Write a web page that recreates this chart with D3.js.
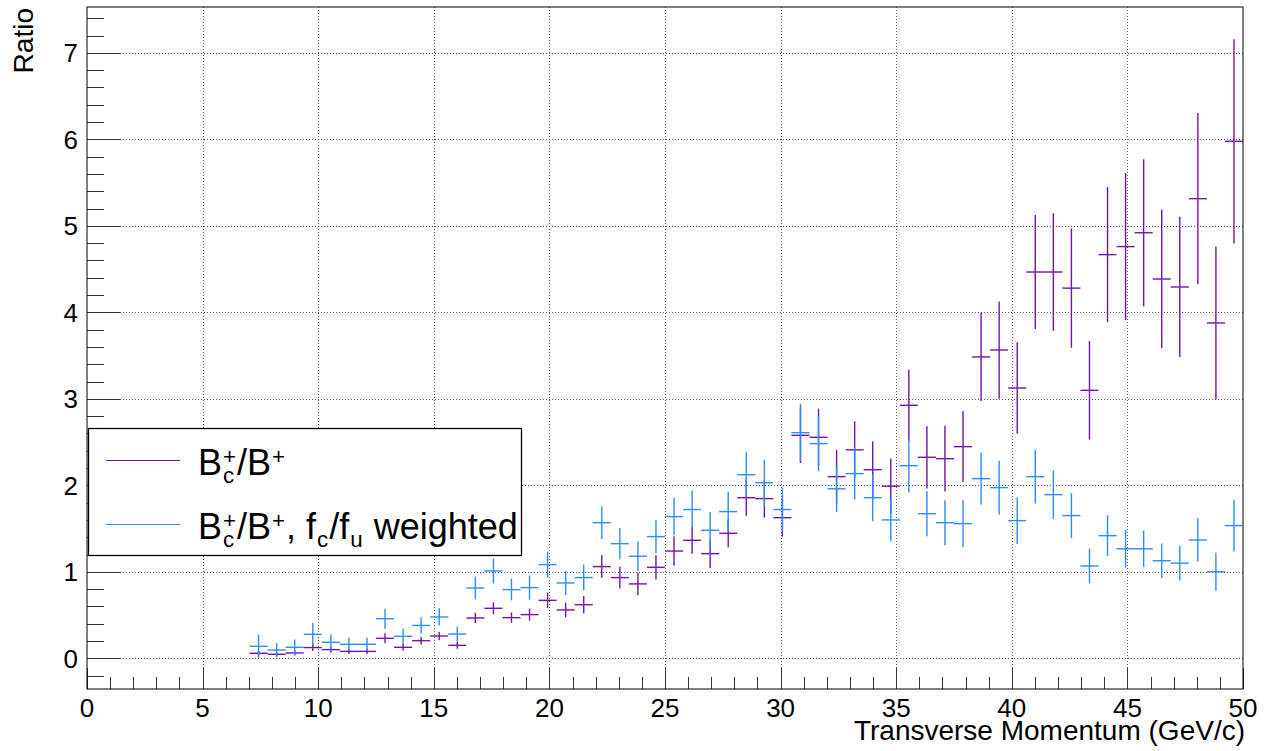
<!DOCTYPE html>
<html>
<head>
<meta charset="utf-8">
<title>Bc+/B+ ratio vs pT</title>
<script src="https://d3js.org/d3.v7.min.js"></script>
<style>
  body { margin: 0; background: #fff; }
  text { font-family: "Liberation Sans", Arial, Helvetica, sans-serif; fill: #000; }
</style>
</head>
<body>
<div id="stage"></div>
<script>
// histogram binning: 64 bins over 0-50 GeV/c, contents start at bin 9
var nBins = 64, ptMin = 0, ptMax = 50, firstBin = 9;

// Bc+/B+ ratio, per bin (bins 9..63)
var ratio = [0.058, 0.046, 0.062, 0.124, 0.10, 0.08, 0.08, 0.231, 0.127, 0.204,
             0.258, 0.15, 0.466, 0.578, 0.47, 0.505, 0.67, 0.559, 0.62, 1.06,
             0.933, 0.86, 1.052, 1.24, 1.364, 1.21, 1.445, 1.857, 1.846, 1.626,
             2.578, 2.555, 2.10, 2.41, 2.18, 1.99, 2.925, 2.324, 2.308, 2.447,
             3.484, 3.565, 3.125, 4.466, 4.466, 4.28, 3.098, 4.667, 4.76, 4.92,
             4.385, 4.293, 5.314, 3.877, 5.977];
var ratioErr = [0.03, 0.025, 0.03, 0.04, 0.035, 0.03, 0.03, 0.058, 0.04, 0.045,
                0.05, 0.04, 0.06, 0.07, 0.06, 0.07, 0.09, 0.085, 0.10, 0.13,
                0.125, 0.13, 0.14, 0.17, 0.155, 0.165, 0.16, 0.21, 0.22, 0.22,
                0.32, 0.33, 0.31, 0.33, 0.33, 0.32, 0.41, 0.36, 0.38, 0.41,
                0.51, 0.56, 0.53, 0.66, 0.68, 0.69, 0.57, 0.78, 0.85, 0.85,
                0.80, 0.81, 0.99, 0.885, 1.18];

// same ratio with fc/fu weighting
var weighted = [0.139, 0.096, 0.127, 0.277, 0.185, 0.162, 0.162, 0.458, 0.254, 0.38,
                0.478, 0.28, 0.813, 1.01, 0.794, 0.817, 1.083, 0.871, 0.933, 1.568,
                1.325, 1.18, 1.407, 1.638, 1.72, 1.48, 1.696, 2.123, 2.03, 1.72,
                2.609, 2.482, 1.96, 2.135, 1.857, 1.60, 2.227, 1.672, 1.568, 1.557,
                2.077, 1.973, 1.592, 2.10, 1.892, 1.65, 1.067, 1.418, 1.266, 1.266,
                1.128, 1.10, 1.368, 1.0, 1.534];
var weightedErr = [0.137, 0.08, 0.09, 0.13, 0.09, 0.075, 0.075, 0.115, 0.09, 0.095,
                   0.10, 0.085, 0.13, 0.145, 0.125, 0.14, 0.15, 0.14, 0.15, 0.19,
                   0.18, 0.17, 0.19, 0.215, 0.22, 0.21, 0.23, 0.26, 0.265, 0.25,
                   0.33, 0.32, 0.27, 0.30, 0.27, 0.25, 0.31, 0.26, 0.26, 0.27,
                   0.30, 0.31, 0.27, 0.31, 0.28, 0.26, 0.20, 0.235, 0.22, 0.21,
                   0.20, 0.20, 0.25, 0.22, 0.30];

var xTicks = [0, 5, 10, 15, 20, 25, 30, 35, 40, 45, 50];
var yTicks = [0, 1, 2, 3, 4, 5, 6, 7];
var xTitle = "Transverse Momentum (GeV/c)";
var yTitle = "Ratio";

var purple = "#7414a6";
var blue = "#2b8cff";

var W = 1271, H = 751;
var svg = d3.select("#stage").append("svg")
    .attr("width", W).attr("height", H);
svg.append("rect").attr("width", W).attr("height", H).attr("fill", "#fff");

var x = d3.scaleLinear().domain([ptMin, ptMax]).range([87, 1243]);
var y = d3.scaleLinear().domain([-0.355, 7.53]).range([689, 7]);
var binW = (ptMax - ptMin) / nBins;

// grid
var grid = svg.append("g").attr("stroke", "#555").attr("stroke-width", 1)
    .attr("stroke-dasharray", "1,2");
grid.selectAll("line.gx").data(xTicks.slice(1, -1)).enter().append("line")
    .attr("x1", function(d) { return Math.round(x(d)) + 0.5; })
    .attr("x2", function(d) { return Math.round(x(d)) + 0.5; })
    .attr("y1", y.range()[0]).attr("y2", y.range()[1]);
grid.selectAll("line.gy").data(yTicks).enter().append("line")
    .attr("y1", function(d) { return Math.round(y(d)) + 0.5; })
    .attr("y2", function(d) { return Math.round(y(d)) + 0.5; })
    .attr("x1", x.range()[0]).attr("x2", x.range()[1]);

// ticks, ROOT style (inside the frame)
var ticks = svg.append("g").attr("stroke", "#333").attr("stroke-width", 1);
var xMinor = d3.range(ptMin, ptMax + 0.001, 1);
ticks.selectAll("line.tx").data(xMinor).enter().append("line")
    .attr("x1", function(d) { return Math.round(x(d)) + 0.5; })
    .attr("x2", function(d) { return Math.round(x(d)) + 0.5; })
    .attr("y1", 689)
    .attr("y2", function(d) { return 689 - (d % 5 === 0 ? 21 : 12); });
var yMinor = d3.range(-0.2, 7.5, 0.2);
ticks.selectAll("line.ty").data(yMinor).enter().append("line")
    .attr("y1", function(d) { return Math.round(y(d)) + 0.5; })
    .attr("y2", function(d) { return Math.round(y(d)) + 0.5; })
    .attr("x1", 87)
    .attr("x2", function(d) {
        return 87 + (Math.abs(d - Math.round(d)) < 0.01 ? 34 : 17);
    });

// frame
svg.append("rect").attr("x", 87).attr("y", 7).attr("width", 1156).attr("height", 682)
    .attr("fill", "none").attr("stroke", "#000").attr("stroke-width", 1);

// tick labels
svg.append("g").selectAll("text").data(xTicks).enter().append("text")
    .attr("x", function(d) { return x(d); }).attr("y", 717)
    .attr("text-anchor", "middle").attr("font-size", 26)
    .text(function(d) { return d; });
svg.append("g").selectAll("text").data(yTicks).enter().append("text")
    .attr("x", 78).attr("y", function(d) { return y(d) + 9.5; })
    .attr("text-anchor", "end").attr("font-size", 26)
    .text(function(d) { return d; });

// titles
svg.append("text").attr("x", 1245).attr("y", 740).attr("text-anchor", "end")
    .attr("font-size", 28).text(xTitle);
svg.append("text").attr("transform", "translate(33,8) rotate(-90)")
    .attr("text-anchor", "end").attr("font-size", 28).text(yTitle);

// error-bar crosses
function drawSeries(vals, errs, color) {
    var g = svg.append("g").attr("stroke", color).attr("stroke-width", 1.4);
    var pts = vals.map(function(v, i) {
        var lo = ptMin + (firstBin + i) * binW;
        return { lo: lo, hi: lo + binW, c: lo + binW / 2, v: v, e: errs[i] };
    });
    g.selectAll("line.h").data(pts).enter().append("line")
        .attr("x1", function(d) { return x(d.lo); })
        .attr("x2", function(d) { return x(d.hi); })
        .attr("y1", function(d) { return y(d.v); })
        .attr("y2", function(d) { return y(d.v); });
    g.selectAll("line.v").data(pts).enter().append("line")
        .attr("x1", function(d) { return x(d.c); })
        .attr("x2", function(d) { return x(d.c); })
        .attr("y1", function(d) { return y(d.v - d.e); })
        .attr("y2", function(d) { return y(d.v + d.e); });
}
drawSeries(ratio, ratioErr, purple);
drawSeries(weighted, weightedErr, blue);

// legend
var leg = svg.append("g");
leg.append("rect").attr("x", 88.5).attr("y", 428.5).attr("width", 433).attr("height", 127)
    .attr("fill", "#fff").attr("stroke", "#000").attr("stroke-width", 1.3);

var legendEntries = [
    { color: purple, parts: [{ s: "B" }, { sub: "c", sup: "+" }, { s: "/B" }, { sup: "+" }] },
    { color: blue, parts: [{ s: "B" }, { sub: "c", sup: "+" }, { s: "/B" }, { sup: "+" },
                           { s: ", f" }, { sub: "c" }, { s: "/f" }, { sub: "u" }, { s: " weighted" }] }
];

function drawLatex(g, x0, base, parts, size) {
    var small = size * 0.62;
    var cx = x0;
    parts.forEach(function(p) {
        if (p.s) {
            var t = g.append("text").attr("x", cx).attr("y", base)
                .attr("font-size", size).attr("xml:space", "preserve").text(p.s);
            cx += t.node().getComputedTextLength();
        } else {
            var w = 0;
            if (p.sub) {
                var ts = g.append("text").attr("x", cx + 1).attr("y", base + 8)
                    .attr("font-size", small).text(p.sub);
                w = Math.max(w, ts.node().getComputedTextLength());
            }
            if (p.sup) {
                var tp = g.append("text").attr("x", cx + 1).attr("y", base - 11)
                    .attr("font-size", small).text(p.sup);
                w = Math.max(w, tp.node().getComputedTextLength());
            }
            cx += w + 2;
        }
    });
}

legendEntries.forEach(function(e, i) {
    var ly = 460.5 + i * 64;
    leg.append("line").attr("x1", 106).attr("x2", 180).attr("y1", ly).attr("y2", ly)
        .attr("stroke", e.color).attr("stroke-width", 1.2);
    drawLatex(leg, 198, ly + 14.5, e.parts, 36);
});
</script>
</body>
</html>
